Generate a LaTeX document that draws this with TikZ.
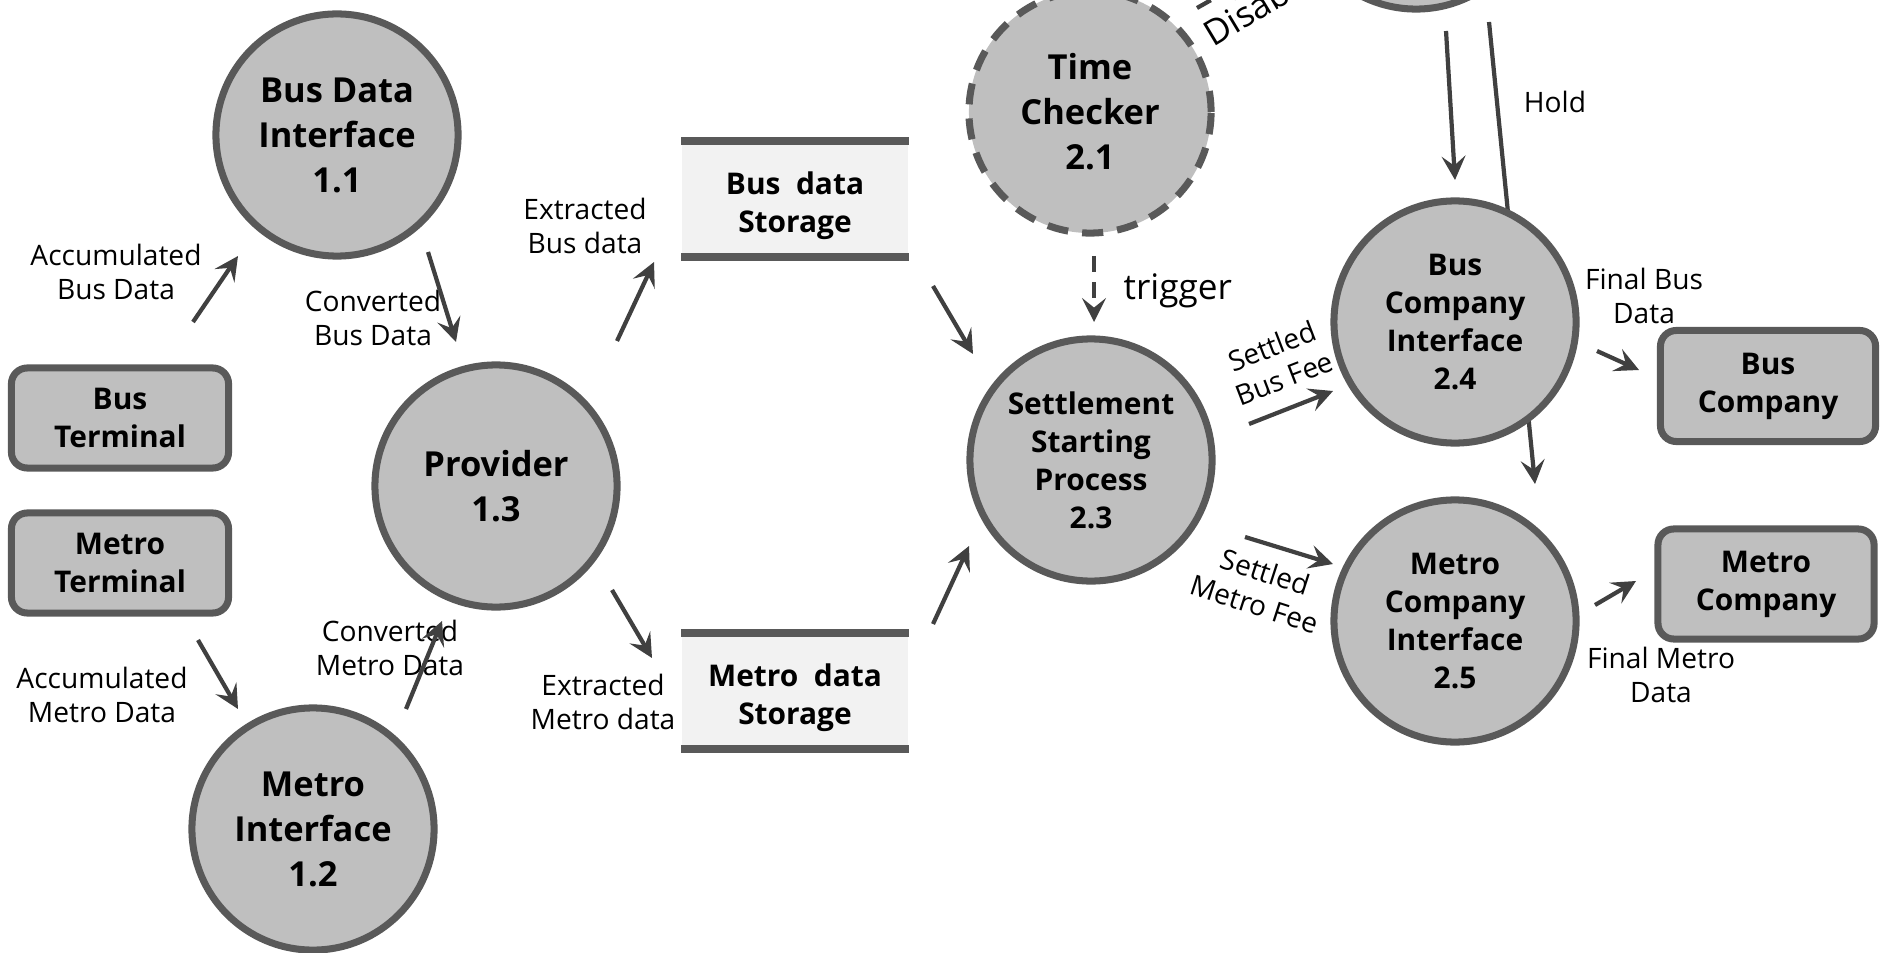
\documentclass[tikz,border=0pt]{standalone}
\usepackage{fontspec}
\setmainfont{Open Sans}
\usetikzlibrary{arrows.meta}
\definecolor{fillg}{HTML}{BFBFBF}
\definecolor{edgec}{HTML}{595959}
\definecolor{arrc}{HTML}{404040}
\definecolor{storec}{HTML}{F2F2F2}
\tikzset{
  proc/.style={circle, draw=edgec, line width=2pt, fill=fillg, inner sep=0pt,
    minimum size=2.42cm, align=center, font=\bfseries\fontsize{9.8}{12.8}\selectfont},
  procs/.style={proc, font=\bfseries\fontsize{8.5}{10.8}\selectfont},
  dashproc/.style={proc, dash pattern=on 6pt off 4pt},
  extbox/.style={rectangle, rounded corners=4.5pt, draw=edgec, line width=2pt, fill=fillg,
    inner sep=0pt, minimum width=2.17cm, minimum height=1.0cm, align=center,
    font=\bfseries\fontsize{8.5}{10.8}\selectfont},
  storebox/.style={rectangle, fill=storec, inner sep=0pt, minimum width=2.26cm,
    minimum height=1.14cm},
  storetext/.style={align=center, inner sep=0pt, font=\bfseries\fontsize{8.5}{10.8}\selectfont},
  storebar/.style={draw=edgec, line width=2.3pt},
  flow/.style={draw=arrc, line width=1.2pt, -{Stealth[length=6.8pt,width=6.8pt,inset=2.7pt]}},
  dflow/.style={flow, dash pattern=on 4.5pt off 3pt},
  lbl/.style={align=center, inner sep=0pt, font=\fontsize{8}{9.7}\selectfont},
  biglbl/.style={inner sep=0pt, font=\fontsize{10}{12}\selectfont}
}
\begin{document}
\begin{tikzpicture}[x=0.01cm, y=-0.01cm]
\useasboundingbox (0,0) rectangle (1883,952);
\clip (0,0) rectangle (1883,952);

% coordinates for free arrow ends
\coordinate (holdS) at (1489,22);
\coordinate (holdE) at (1535,484);
\coordinate (topS) at (1446,31);
\coordinate (topE) at (1455,180);

% lines passing behind processes
\draw[flow] (holdS) -- (holdE);
\draw[flow] (topS) -- (topE);

% processes
\node[proc] (topc) at (1416,-112) {};
\node[proc] (bdi) at (337,135) {Bus Data\\Interface\\1.1};
\node[proc] (mi) at (313,829) {Metro\\Interface\\1.2};
\node[proc] (prov) at (496,486) {Provider\\1.3};
\node[dashproc] (tc) at (1090,112) {Time\\Checker\\2.1};
\node[procs] (ssp) at (1091,460) {Settlement\\Starting\\Process\\2.3};
\node[procs] (bci) at (1455,322) {Bus\\Company\\Interface\\2.4};
\node[procs] (mci) at (1455,621) {Metro\\Company\\Interface\\2.5};

% external entities
\node[extbox] (bt) at (120,418) {Bus\\Terminal};
\node[extbox] (mt) at (120,563) {Metro\\Terminal};
\node[extbox, minimum width=2.15cm, minimum height=1.11cm] (bc) at (1768,386) {Bus\\Company};
\node[extbox, minimum width=2.16cm, minimum height=1.10cm] (mc) at (1766,584) {Metro\\Company};

% data stores
\node[storebox] (bs) at (795,199) {};
\node[storetext] (bst) at (795,206) {Bus~~data\\Storage};
\draw[storebar] (bs.north west) -- (bs.north east);
\draw[storebar] (bs.south west) -- (bs.south east);
\node[storebox] (ms) at (795,691) {};
\node[storetext] (mst) at (795,698) {Metro~~data\\Storage};
\draw[storebar] (ms.north west) -- (ms.north east);
\draw[storebar] (ms.south west) -- (ms.south east);

% labels
\node[lbl] (l1) at (116,272) {Accumulated\\Bus Data};
\node[lbl] (l2) at (373,318) {Converted\\Bus Data};
\node[lbl] (l3) at (102,695) {Accumulated\\Metro Data};
\node[lbl] (l4) at (390,648) {Converted\\Metro Data};
\node[lbl] (l5) at (585,226) {Extracted\\Bus data};
\node[lbl] (l6) at (603,702) {Extracted\\Metro data};
\node[biglbl, anchor=base west] (l7) at (1123,300) {trigger};
\node[lbl, rotate=21] (l8) at (1278,362) {Settled\\Bus Fee};
\node[lbl, rotate=-18] (l9) at (1260,588) {Settled\\Metro Fee};
\node[lbl] (l10) at (1644,296) {Final Bus\\Data};
\node[lbl] (l11) at (1661,675) {Final Metro\\Data};
\node[lbl] (l12) at (1555,102) {Hold};
\node[biglbl, anchor=base west, rotate=31] (l13) at (1213,48) {Disable};

% arrow end coordinates
\coordinate (a1s) at (193,322);  \coordinate (a1e) at (238,256);
\coordinate (a2s) at (428,252);  \coordinate (a2e) at (456,342);
\coordinate (a3s) at (198,640);  \coordinate (a3e) at (238,709);
\coordinate (a4s) at (406,709);  \coordinate (a4e) at (442,621);
\coordinate (a5s) at (617,341);  \coordinate (a5e) at (654,262);
\coordinate (a6s) at (612,590);  \coordinate (a6e) at (652,658);
\coordinate (a7s) at (933,286);  \coordinate (a7e) at (973,354);
\coordinate (a8s) at (933,624);  \coordinate (a8e) at (969,546);
\coordinate (a9s) at (1094,256); \coordinate (a9e) at (1094,322);
\coordinate (a10s) at (1249,424); \coordinate (a10e) at (1333,391);
\coordinate (a11s) at (1245,537); \coordinate (a11e) at (1333,564);
\coordinate (a12s) at (1597,351); \coordinate (a12e) at (1639,370);
\coordinate (a13s) at (1595,605); \coordinate (a13e) at (1636,581);
\coordinate (dsS) at (1197,8);   \coordinate (dsE) at (1250,-22);

\draw[flow] (a1s) -- (a1e);
\draw[flow] (a2s) -- (a2e);
\draw[flow] (a3s) -- (a3e);
\draw[flow] (a4s) -- (a4e);
\draw[flow] (a5s) -- (a5e);
\draw[flow] (a6s) -- (a6e);
\draw[flow] (a7s) -- (a7e);
\draw[flow] (a8s) -- (a8e);
\draw[dflow] (a9s) -- (a9e);
\draw[flow] (a10s) -- (a10e);
\draw[flow] (a11s) -- (a11e);
\draw[flow] (a12s) -- (a12e);
\draw[flow] (a13s) -- (a13e);
\draw[dflow] (dsS) -- (dsE);
\end{tikzpicture}
\end{document}
